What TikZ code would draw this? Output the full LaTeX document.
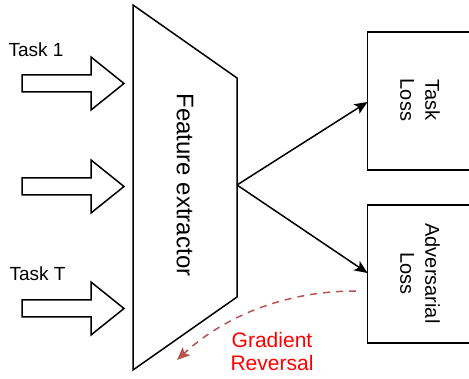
\documentclass[tikz,border=0pt]{standalone}
\usepackage{fontspec}
\setmainfont{Liberation Sans}
\usetikzlibrary{arrows.meta}
\definecolor{gradred}{HTML}{B85450}
\definecolor{labred}{HTML}{FF0000}
\tikzset{
  outline/.style={draw=black, line width=1.5pt, line join=miter},
  conn/.style={draw=black, line width=1.5pt, -{Stealth[length=13pt,width=11pt,inset=3pt]}},
  gradconn/.style={draw=gradred, line width=1.5pt, dash pattern=on 7pt off 6pt, -{Stealth[length=13pt,width=11pt,inset=3pt]}},
  lbl/.style={inner sep=0pt, font=\fontsize{19}{22}\selectfont},
  redlbl/.style={inner sep=0pt, text=labred, align=center, font=\fontsize{21}{23}\selectfont},
  bigtxt/.style={inner sep=0pt, font=\fontsize{24}{26}\selectfont},
  boxtxt/.style={inner sep=0pt, align=center, rotate=-90, font=\fontsize{20}{25}\selectfont},
  blockarrow/.pic={\draw[outline] (0,-8.5) -- (69,-8.5) -- (69,-26.5) -- (102,0) -- (69,26.5) -- (69,8.5) -- (0,8.5) -- cycle;}
}
\begin{document}
\begin{tikzpicture}[x=1pt,y=-1pt]
\clip (0,0) rectangle (469,379);
% feature extractor
\draw[outline] (133,5) -- (237,78) -- (237,297) -- (133,370) -- cycle;
\node[bigtxt, rotate=-90] (fe) at (185,185) {Feature extractor};
\coordinate (feout) at (237,185);
% input arrows
\pic at (22,83.5) {blockarrow};
\pic at (22,186.5) {blockarrow};
\pic at (22,308.5) {blockarrow};
\node[lbl] (t1) at (36,49.5) {Task 1};
\node[lbl] (tT) at (37.5,273.5) {Task T};
% loss boxes
\draw[outline] (367.5,32) rectangle (480,170);
\draw[outline] (367.5,205) rectangle (480,343);
\coordinate (tlin) at (367.5,102);
\coordinate (alin) at (367.5,273);
\node[boxtxt] (tl) at (420,100) {Task\\Loss};
\node[boxtxt] (al) at (420,273.5) {Adversarial\\Loss};
% connectors
\draw[conn] (feout) -- (tlin);
\draw[conn] (feout) -- (alin);
\coordinate (gstart) at (356,291);
\coordinate (gend) at (177,360);
\draw[gradconn] (gstart) .. controls (280,291) and (220,320) .. (gend);
\node[redlbl] (gr) at (272,351) {Gradient\\Reversal};
\end{tikzpicture}
\end{document}
